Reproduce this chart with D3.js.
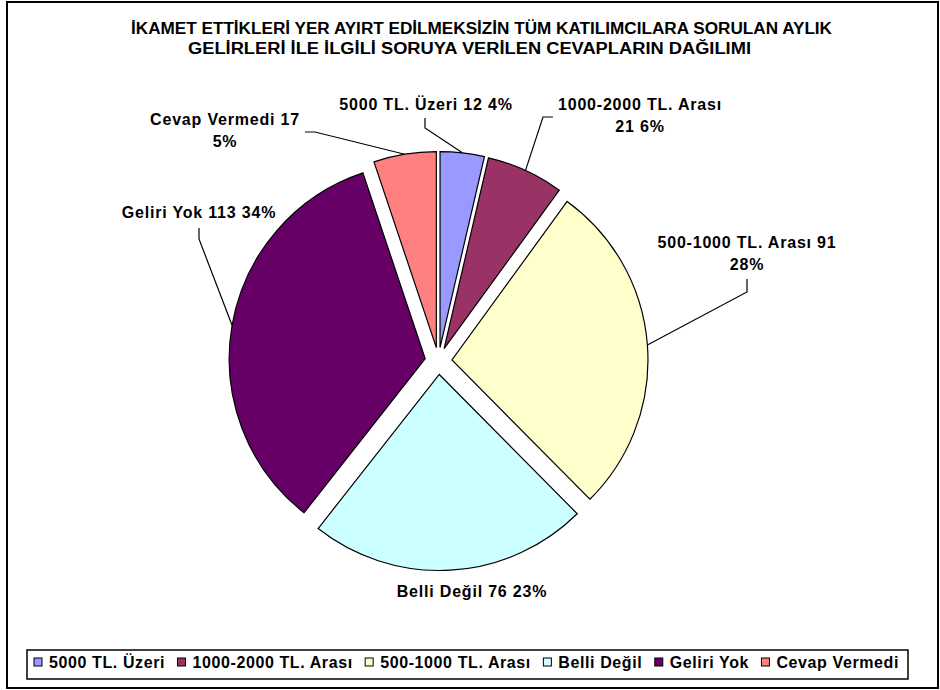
<!DOCTYPE html>
<meta charset="utf-8" />
<script src="https://d3js.org/d3.v7.js"></script>
<style>
  body { margin: 0; background: white; }
  text { font-family: "Liberation Sans", Arial, sans-serif; font-weight: bold; fill: black; }
</style>
<div id="my_dataviz"></div>
<script>
  // data
  const categories = ["5000 TL. Üzeri", "1000-2000 TL. Arası", "500-1000 TL. Arası", "Belli Değil", "Geliri Yok", "Cevap Vermedi"];
  const values = [12, 21, 91, 76, 113, 17];
  const percents = ["4%", "6%", "28%", "23%", "34%", "5%"];
  const colors = ["#9999FF", "#993366", "#FFFFCC", "#CCFFFF", "#660066", "#FF8080"];
  const titleLines = [
    "İKAMET ETTİKLERİ YER AYIRT EDİLMEKSİZİN TÜM KATILIMCILARA SORULAN AYLIK",
    "GELİRLERİ İLE İLGİLİ SORUYA VERİLEN CEVAPLARIN DAĞILIMI"
  ];

  // how each data label is split over lines
  const labelBreak = ["one", "name", "value", "one", "one", "value"];

  // label layout: text centre x, first baseline, leader start and elbow
  const labelLayout = [
    { x: 426, y: 110, lead: [[425, 118], [425, 128]] },
    { x: 640, y: 110, lead: [[553, 117], [543, 117]] },
    { x: 747, y: 248, lead: [[747, 279], [747, 292]] },
    { x: 472, y: 597, lead: null },
    { x: 199, y: 218, lead: [[199, 228], [199, 239]] },
    { x: 225, y: 125, lead: [[305, 132], [315, 132]] }
  ];

  const width = 940,
    height = 690;
  const cx = 438.5,
    cy = 361,
    radius = 196,
    explode = 13.5;

  const svg = d3
    .select("#my_dataviz")
    .append("svg")
    .attr("width", width)
    .attr("height", height);

  // outer frame
  svg
    .append("rect")
    .attr("x", 7)
    .attr("y", 2)
    .attr("width", 931)
    .attr("height", 686)
    .attr("fill", "white")
    .attr("stroke", "black")
    .attr("stroke-width", 2);

  // title
  const titleX = [[131, 832], [188, 751]];
  svg
    .selectAll(".title")
    .data(titleLines)
    .join("text")
    .attr("class", "title")
    .attr("x", (d, i) => titleX[i][0])
    .attr("y", (d, i) => 34 + i * 20)
    .attr("textLength", (d, i) => titleX[i][1] - titleX[i][0])
    .attr("lengthAdjust", "spacingAndGlyphs")
    .style("font-size", "16px")
    .text((d) => d);

  // pie
  const pie = d3.pie().sort(null).value((d) => d)(values);
  const arc = d3.arc().innerRadius(0).outerRadius(radius);

  const mid = (d) => (d.startAngle + d.endAngle) / 2;
  const offset = (d) => [Math.sin(mid(d)) * explode, -Math.cos(mid(d)) * explode];

  const g = svg.append("g").attr("transform", `translate(${cx}, ${cy})`);

  g.selectAll("path")
    .data(pie)
    .join("path")
    .attr("transform", (d) => `translate(${offset(d)[0]}, ${offset(d)[1]})`)
    .attr("d", arc)
    .attr("fill", (d, i) => colors[i])
    .attr("stroke", "black")
    .attr("stroke-width", 1.2)
    .attr("stroke-linejoin", "miter");

  // leader lines, ending on the middle of each slice's outer arc
  pie.forEach(function (d, i) {
    const lay = labelLayout[i];
    if (!lay.lead) return;
    const o = offset(d);
    const end = [cx + o[0] + Math.sin(mid(d)) * radius, cy + o[1] - Math.cos(mid(d)) * radius];
    svg
      .append("path")
      .attr("d", d3.line()(lay.lead.concat([end])))
      .attr("fill", "none")
      .attr("stroke", "black")
      .attr("stroke-width", 1.2);
  });

  // data labels
  categories.forEach(function (c, i) {
    let lines;
    if (labelBreak[i] === "one") lines = [c + " " + values[i] + " " + percents[i]];
    else if (labelBreak[i] === "name") lines = [c, values[i] + " " + percents[i]];
    else lines = [c + " " + values[i], percents[i]];
    const lay = labelLayout[i];
    svg
      .selectAll(".lab" + i)
      .data(lines)
      .join("text")
      .attr("class", "lab" + i)
      .attr("x", lay.x)
      .attr("y", (d, j) => lay.y + j * 22)
      .attr("text-anchor", "middle")
      .style("font-size", "16px")
      .style("letter-spacing", "0.8px")
      .text((d) => d);
  });

  // legend
  const legend = svg.append("g");
  legend
    .append("rect")
    .attr("x", 27)
    .attr("y", 650)
    .attr("width", 881)
    .attr("height", 29)
    .attr("fill", "white")
    .attr("stroke", "black")
    .attr("stroke-width", 1.5);

  const legendStart = 34,
    legendEnd = 899;
  const items = categories.map(function (c, i) {
    const sq = legend
      .append("rect")
      .attr("y", 658)
      .attr("width", 8)
      .attr("height", 8)
      .attr("fill", colors[i])
      .attr("stroke", "black")
      .attr("stroke-width", 1);
    const t = legend
      .append("text")
      .attr("y", 668)
      .style("font-size", "16px")
      .style("letter-spacing", "0.6px")
      .text(c);
    return { sq: sq, t: t, w: t.node().getComputedTextLength() };
  });
  const used = d3.sum(items, (d) => 15 + d.w);
  const gap = (legendEnd - legendStart - used) / (items.length - 1);
  let lx = legendStart;
  items.forEach(function (d) {
    d.sq.attr("x", lx);
    d.t.attr("x", lx + 15);
    lx += 15 + d.w + gap;
  });
</script>
